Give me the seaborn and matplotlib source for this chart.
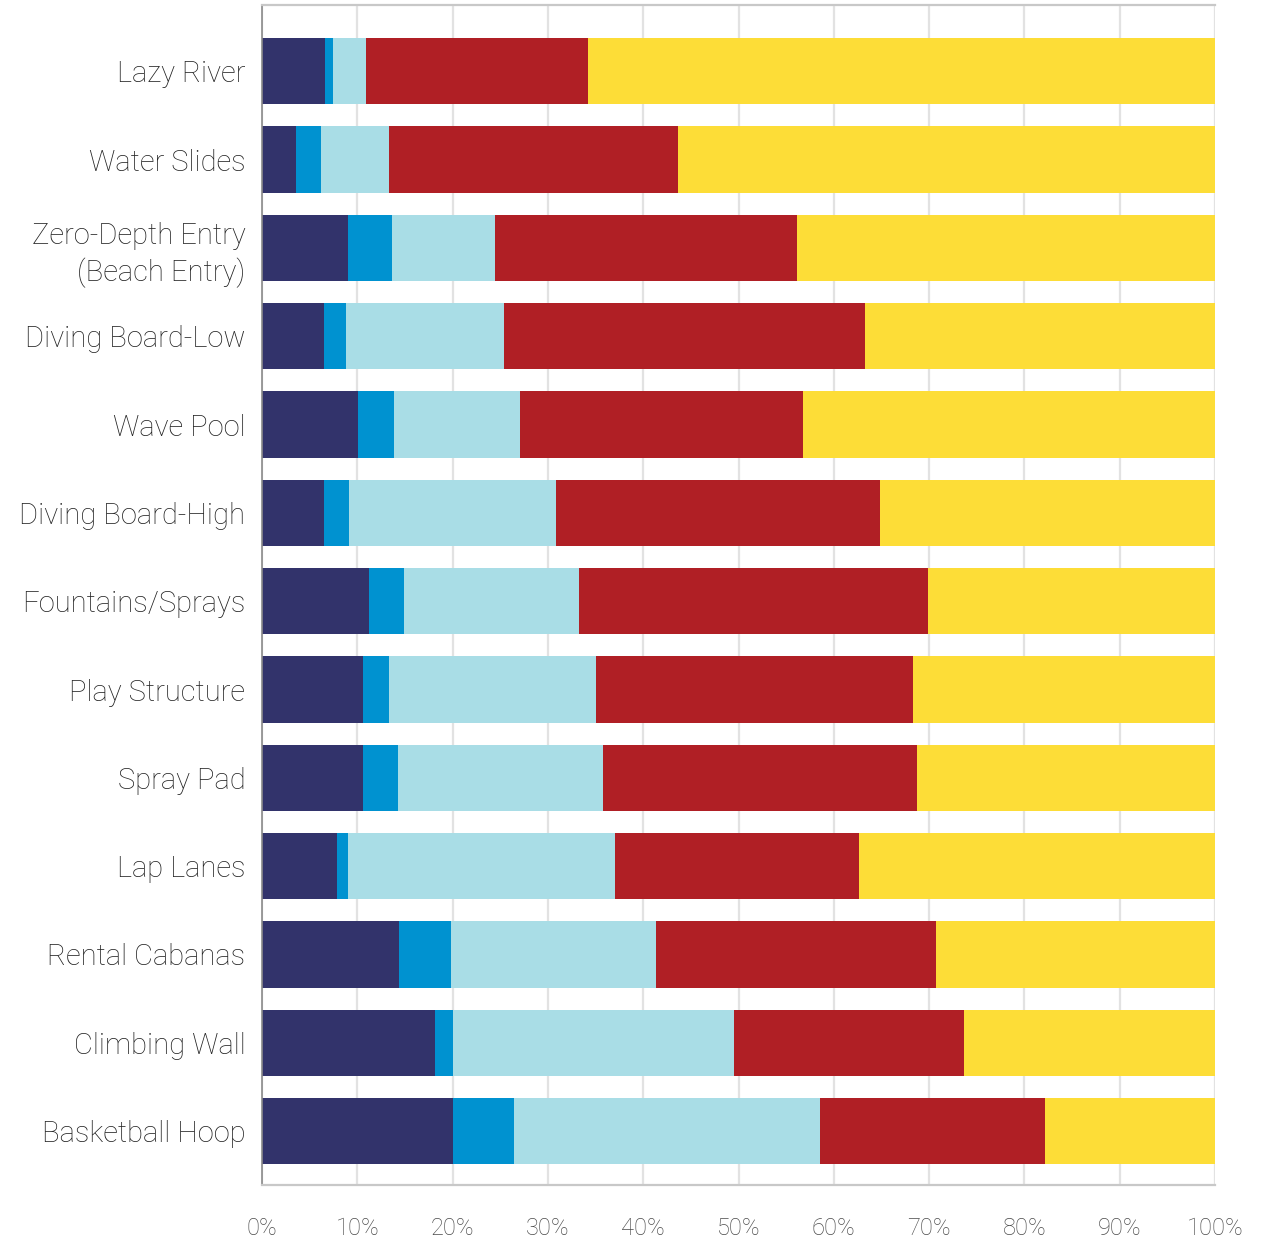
import numpy as np
import pandas as pd
import matplotlib
matplotlib.use("Agg")
import matplotlib.pyplot as plt
import seaborn as sns

# Amenities (top to bottom)
amenities = [
    "Lazy River", "Water Slides", "Zero-Depth Entry\n(Beach Entry)", "Diving Board-Low",
    "Wave Pool", "Diving Board-High", "Fountains/Sprays", "Play Structure",
    "Spray Pad", "Lap Lanes", "Rental Cabanas", "Climbing Wall", "Basketball Hoop",
]

# Share of responses (%) per response level, one list per segment
seg_1 = [6.6, 3.6, 9.0, 6.5, 10.1, 6.5, 11.2, 10.6, 10.6, 7.9, 14.4, 18.2, 20.0]
seg_2 = [0.8, 2.6, 4.6, 2.3, 3.8, 2.6, 3.7, 2.7, 3.7, 1.1, 5.4, 1.8, 6.4]
seg_3 = [3.5, 7.1, 10.8, 16.6, 13.2, 21.8, 18.4, 21.7, 21.5, 28.0, 21.5, 29.5, 32.2]
seg_4 = [23.3, 30.3, 31.7, 37.9, 29.7, 33.9, 36.6, 33.3, 32.9, 25.6, 29.4, 24.2, 23.6]
seg_5 = [65.8, 56.4, 43.9, 36.7, 43.2, 35.2, 30.1, 31.7, 31.3, 37.4, 29.3, 26.3, 17.8]

x_ticks = [0, 10, 20, 30, 40, 50, 60, 70, 80, 90, 100]
x_tick_labels = [f"{t}%" for t in x_ticks]

colors = ["#32336B", "#0092D0", "#A9DDE6", "#B01F25", "#FDDD37"]

segments = [seg_1, seg_2, seg_3, seg_4, seg_5]
df = pd.DataFrame({"amenity": amenities})
running = np.zeros(len(amenities))
for i, seg in enumerate(segments):
    running = running + np.array(seg)
    df[f"cum_{i}"] = running

sns.set_theme(style="white")
plt.rcParams["font.family"] = ["Roboto", "DejaVu Sans"]

fig = plt.figure(figsize=(12.66, 12.39), dpi=100)
ax = fig.add_axes([262 / 1266, 1 - 1185 / 1239, (1215 - 262) / 1266, (1185 - 5) / 1239])

# Draw stacked bars: longest cumulative first so shorter ones sit on top
for i in reversed(range(len(segments))):
    sns.barplot(data=df, x=f"cum_{i}", y="amenity", orient="h", color=colors[i],
                width=0.75, saturation=1, linewidth=0, ax=ax, zorder=2)

ax.set_xlim(0, 100)
ax.set_ylim(12.61, -0.75)
ax.set_xticks(x_ticks)
ax.set_xticklabels(x_tick_labels, fontsize=17, color="#4A4A4A", fontweight="light")
ax.tick_params(axis="x", length=0, pad=23)
ax.tick_params(axis="y", length=0, pad=12)
for lab in ax.get_yticklabels():
    lab.set_fontsize(21)
    lab.set_color("#222222")
    lab.set_fontweight("light")
    lab.set_multialignment("right")
    lab.set_linespacing(1.3)
ax.set_xlabel("")
ax.set_ylabel("")

ax.grid(axis="x", color="#E2E2E2", linewidth=1.6, zorder=0)
ax.set_axisbelow(True)
for side in ["top", "bottom"]:
    ax.spines[side].set_color("#C8C8C8")
    ax.spines[side].set_linewidth(1.6)
ax.spines["left"].set_color("#8A8A8A")
ax.spines["left"].set_linewidth(1.2)
ax.spines["right"].set_visible(False)

fig.savefig("out.png", dpi=100, facecolor="white")
